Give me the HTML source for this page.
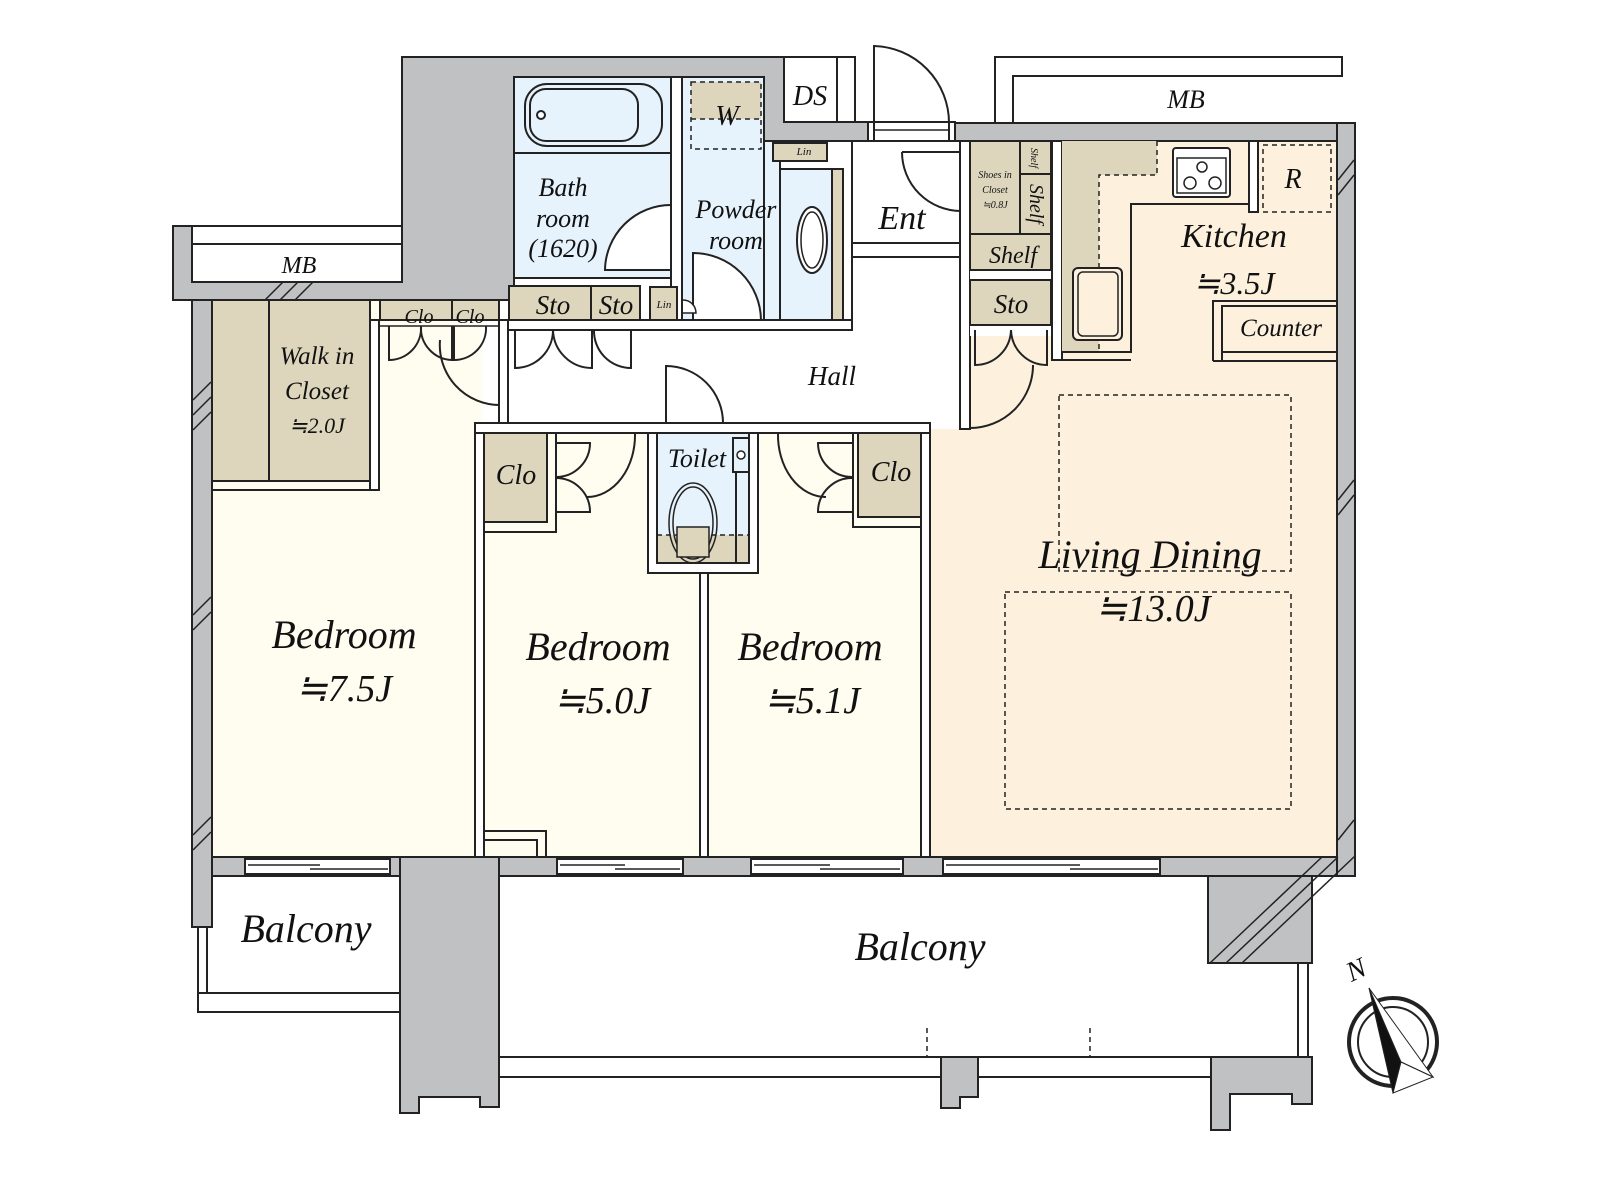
<!DOCTYPE html>
<html><head><meta charset="utf-8"><style>
html,body{margin:0;padding:0;background:#fff;width:1600px;height:1200px;overflow:hidden}
svg{display:block}
text{font-family:"Liberation Serif",serif;font-style:italic;fill:#111}
</style></head><body>
<svg width="1600" height="1200" viewBox="0 0 1600 1200" xmlns="http://www.w3.org/2000/svg">
<g stroke="#222" stroke-width="2">
<rect x="212" y="300" width="270" height="557" fill="#fffdf0" stroke="none"/>
<rect x="484" y="433" width="216" height="424" fill="#fffdf0" stroke="none"/>
<rect x="708" y="433" width="213" height="424" fill="#fffdf0" stroke="none"/>
<polygon points="930,857 930,429 970,429 970,141 1337,141 1337,857" fill="#fdf1de" stroke="none"/>
<polygon points="503,330 852,330 852,141 960,141 960,423 503,423" fill="#fff" stroke="none"/>
<polygon points="402,57 784,57 784,122 868,122 868,141 764,141 764,77 514,77 514,300 173,300 173,226 402,226" fill="#bfc1c2"/>
<rect x="192" y="226" width="210" height="56" fill="#fff"/>
<line x1="192" y1="244" x2="402" y2="244"/>
<rect x="192" y="300" width="20" height="627" fill="#bfc1c2"/>
<rect x="955" y="123" width="400" height="18" fill="#bfc1c2"/>
<rect x="1337" y="123" width="18" height="753" fill="#bfc1c2"/>
<polygon points="1161,857 1337,857 1337,876 1312,876 1312,963 1208,963 1208,876 1161,876" fill="#bfc1c2"/>
<rect x="212" y="857" width="1125" height="19" fill="#bfc1c2"/>
<polygon points="400,857 499,857 499,1107 480,1107 480,1097 419,1097 419,1113 400,1113" fill="#bfc1c2"/>
<polygon points="941,1057 978,1057 978,1097 960,1097 960,1108 941,1108" fill="#bfc1c2"/>
<polygon points="1211,1057 1312,1057 1312,1104 1292,1104 1292,1094 1230,1094 1230,1130 1211,1130" fill="#bfc1c2"/>
<g stroke-width="1.5">
<line x1="265" y1="300" x2="283" y2="282"/><line x1="280" y1="300" x2="298" y2="282"/><line x1="295" y1="300" x2="313" y2="282"/>
<line x1="193" y1="400" x2="211" y2="382"/><line x1="193" y1="415" x2="211" y2="397"/><line x1="193" y1="430" x2="211" y2="412"/>
<line x1="193" y1="615" x2="211" y2="597"/><line x1="193" y1="630" x2="211" y2="612"/>
<line x1="193" y1="835" x2="211" y2="817"/><line x1="193" y1="850" x2="211" y2="832"/>
<line x1="1338" y1="180" x2="1354" y2="160"/><line x1="1338" y1="195" x2="1354" y2="175"/>
<line x1="1338" y1="500" x2="1354" y2="480"/><line x1="1338" y1="515" x2="1354" y2="495"/>
<line x1="1338" y1="840" x2="1354" y2="820"/>
<line x1="1210" y1="963" x2="1322" y2="857"/><line x1="1226" y1="963" x2="1338" y2="857"/><line x1="1242" y1="963" x2="1355" y2="856"/>
</g>
<g fill="#fff">
<rect x="245" y="859" width="145" height="15"/><rect x="557" y="859" width="126" height="15"/>
<rect x="751" y="859" width="152" height="15"/><rect x="943" y="859" width="217" height="15"/>
</g>
<g stroke-width="1.5">
<line x1="248" y1="865" x2="320" y2="865"/><line x1="310" y1="869" x2="388" y2="869"/>
<line x1="560" y1="865" x2="625" y2="865"/><line x1="615" y1="869" x2="680" y2="869"/>
<line x1="754" y1="865" x2="830" y2="865"/><line x1="820" y1="869" x2="900" y2="869"/>
<line x1="946" y1="865" x2="1080" y2="865"/><line x1="1070" y1="869" x2="1158" y2="869"/>
</g>
<rect x="198" y="993" width="202" height="19" fill="#fff"/>
<rect x="198" y="927" width="9" height="66" fill="#fff"/>
<rect x="499" y="1057" width="442" height="20" fill="#fff"/>
<rect x="978" y="1057" width="233" height="20" fill="#fff"/>
<rect x="1298" y="963" width="10" height="94" fill="#fff"/>
<line x1="499" y1="876" x2="499" y2="1057"/>
<line x1="499" y1="876" x2="1208" y2="876"/>
<line x1="927" y1="1028" x2="927" y2="1057" stroke-dasharray="5,4" stroke-width="1.5"/>
<line x1="1090" y1="1028" x2="1090" y2="1057" stroke-dasharray="5,4" stroke-width="1.5"/>
<polygon points="995,123 995,57 1342,57 1342,76 1013,76 1013,123" fill="#fff"/>
<rect x="784" y="57" width="53" height="65" fill="#fff"/>
<polyline points="837,57 855,57 855,122" fill="none"/>
<rect x="868" y="122" width="87" height="19" fill="#fff"/>
<line x1="874" y1="123" x2="874" y2="141"/><line x1="949" y1="123" x2="949" y2="141"/>
<line x1="874" y1="130" x2="949" y2="130" stroke-width="1.5"/>
<path d="M874,123 L874,46 A77,77 0 0 1 949,123" fill="none"/>
<rect x="514" y="77" width="157" height="201" fill="#e6f3fc"/>
<line x1="514" y1="153" x2="671" y2="153"/>
<rect x="525" y="84" width="137" height="62" rx="22" fill="#e6f3fc"/>
<rect x="530" y="89" width="108" height="52" rx="16" fill="#e6f3fc"/>
<circle cx="541" cy="115" r="4" fill="#fff"/>
<path d="M671,205 A66,66 0 0 0 605,270 L671,270" fill="#fff"/>
<rect x="671" y="77" width="11" height="243" fill="#fff"/>
<rect x="682" y="77" width="82" height="243" fill="#e6f3fc"/>
<polygon points="764,141 780,141 780,169 843,169 843,320 764,320" fill="#e6f3fc"/>
<rect x="764" y="141" width="88" height="179" fill="none"/>
<rect x="691" y="82" width="70" height="37" fill="#ddd6bd" stroke="none"/>
<rect x="691" y="82" width="70" height="67" fill="none" stroke-dasharray="5,4" stroke-width="1.5"/>
<line x1="691" y1="119" x2="761" y2="119" stroke-dasharray="5,4" stroke-width="1.5"/>
<rect x="773" y="143" width="54" height="18" fill="#ddd6bd"/>
<line x1="780" y1="169" x2="780" y2="320"/>
<rect x="832" y="169" width="11" height="151" fill="#ddd6bd"/>
<ellipse cx="812" cy="240" rx="15" ry="33" fill="#fff"/>
<ellipse cx="812" cy="240" rx="11" ry="28" fill="#fff" stroke-width="1.5"/>
<path d="M693,320 L693,253 A68,68 0 0 1 761,320" fill="#fff"/>
<rect x="509" y="286" width="82" height="37" fill="#ddd6bd"/>
<rect x="591" y="286" width="49" height="37" fill="#ddd6bd"/>
<rect x="650" y="287" width="27" height="33" fill="#ddd6bd"/>
<path d="M683,300 A13,13 0 0 1 696,313 L683,313" fill="#fff" stroke-width="1.5"/>
<rect x="499" y="320" width="353" height="10" fill="#fff"/>
<rect x="499" y="320" width="9" height="103" fill="#fff"/>
<rect x="475" y="423" width="455" height="10" fill="#fff"/>
<rect x="960" y="141" width="10" height="288" fill="#fff"/>
<rect x="852" y="243" width="108" height="14" fill="#fff"/>
<line x1="852" y1="141" x2="852" y2="330"/>
<g fill="none">
<path d="M515,330 L515,368 A38,38 0 0 0 553,330"/>
<path d="M592,330 L592,368 A39,39 0 0 1 553,330"/>
<path d="M631,330 L631,368 A37,37 0 0 1 594,330"/>
<path d="M666,423 L666,366 A57,57 0 0 1 723,423"/>
<path d="M902,152 L961,152 M902,152 A59,59 0 0 0 961,211"/>
</g>
<rect x="212" y="300" width="158" height="181" fill="#ddd6bd"/>
<line x1="269" y1="300" x2="269" y2="481"/>
<rect x="370" y="320" width="9" height="170" fill="#fff"/>
<line x1="212" y1="490" x2="379" y2="490"/>
<rect x="380" y="300" width="119" height="20" fill="#ddd6bd"/>
<line x1="452" y1="300" x2="452" y2="320"/>
<g fill="none">
<path d="M389,326 L389,360 A32,32 0 0 0 421,326"/>
<path d="M452,326 L452,360 A32,32 0 0 1 421,326"/>
<path d="M454,326 L454,360 A32,32 0 0 0 486,326"/>
<path d="M440,340 A60,60 0 0 0 500,405"/>
</g>
<line x1="380" y1="326" x2="499" y2="326" stroke-width="1.5"/>
<rect x="475" y="433" width="9" height="424" fill="#fff"/>
<rect x="700" y="573" width="8" height="284" fill="#fff"/>
<rect x="921" y="433" width="9" height="424" fill="#fff"/>
<polyline points="484,831 546,831 546,857" fill="none"/>
<polyline points="484,840 537,840 537,857" fill="none"/>
<rect x="484" y="433" width="63" height="89" fill="#ddd6bd"/>
<polyline points="484,532 556,532 556,433" fill="none"/>
<g fill="none">
<path d="M556,443 L590,443 A34,34 0 0 1 556,477"/>
<path d="M556,512 L590,512 A34,34 0 0 0 556,478"/>
<path d="M635,433 A48,62 0 0 1 587,497"/>
</g>
<rect x="648" y="433" width="110" height="140" fill="#fff"/>
<rect x="657" y="433" width="92" height="130" fill="#e6f3fc"/>
<rect x="657" y="535" width="92" height="28" fill="#ddd6bd" stroke="none"/>
<line x1="657" y1="535" x2="749" y2="535" stroke-dasharray="5,4" stroke-width="1.5"/>
<rect x="657" y="433" width="92" height="130" fill="none"/>
<line x1="736" y1="472" x2="736" y2="563"/>
<rect x="733" y="438" width="16" height="34" fill="#e6f3fc"/>
<circle cx="741" cy="455" r="4" fill="#fff" stroke-width="1.5"/>
<ellipse cx="693" cy="523" rx="24" ry="40" fill="none" stroke-width="1.5"/>
<ellipse cx="693" cy="523" rx="20" ry="36" fill="none" stroke-width="1.5"/>
<rect x="677" y="527" width="32" height="30" fill="#ddd6bd" stroke-width="1.5"/>
<rect x="858" y="433" width="63" height="84" fill="#ddd6bd"/>
<polyline points="921,527 853,527 853,433" fill="none"/>
<g fill="none">
<path d="M853,443 L818,443 A34,34 0 0 0 853,477"/>
<path d="M853,512 L818,512 A34,34 0 0 1 853,478"/>
<path d="M778,433 A48,62 0 0 0 826,497"/>
</g>
<rect x="970" y="141" width="82" height="195" fill="#fff" stroke="none"/>
<rect x="970" y="141" width="50" height="93" fill="#ddd6bd"/>
<rect x="1020" y="141" width="31" height="33" fill="#ddd6bd"/>
<rect x="1020" y="174" width="31" height="60" fill="#ddd6bd"/>
<rect x="970" y="234" width="81" height="36" fill="#ddd6bd"/>
<rect x="970" y="280" width="81" height="45" fill="#ddd6bd"/>
<g fill="none">
<path d="M975,330 L975,365 A36,36 0 0 0 1011,330"/>
<path d="M1047,330 L1047,365 A36,36 0 0 1 1011,330"/>
<path d="M1033,365 A63,63 0 0 1 970,428"/>
</g>
<line x1="1052" y1="141" x2="1052" y2="336"/>
<rect x="1052" y="141" width="10" height="219" fill="#fff"/>
<polygon points="1062,141 1157,141 1157,175 1099,175 1099,352 1062,352" fill="#ddd6bd" stroke="none"/>
<polyline points="1157,141 1157,175 1099,175 1099,352" fill="none" stroke-dasharray="5,4" stroke-width="1.5"/>
<polyline points="1062,352 1131,352 1131,204 1249,204" fill="none"/>
<polyline points="1052,360 1131,360" fill="none"/>
<rect x="1249" y="141" width="9" height="71" fill="#fff"/>
<rect x="1173" y="148" width="57" height="49" rx="3" fill="#fff"/>
<rect x="1177" y="158" width="49" height="35" fill="#fff" stroke-width="1.5"/>
<circle cx="1202" cy="167" r="5" fill="#fff" stroke-width="1.5"/>
<circle cx="1190" cy="183" r="6" fill="#fff" stroke-width="1.5"/>
<circle cx="1215" cy="183" r="6" fill="#fff" stroke-width="1.5"/>
<rect x="1263" y="145" width="68" height="67" fill="none" stroke-dasharray="5,4" stroke-width="1.5"/>
<rect x="1073" y="268" width="49" height="72" rx="5" fill="#fdf1de"/>
<rect x="1078" y="272" width="40" height="64" rx="5" fill="none" stroke-width="1.5"/>
<polyline points="1213,361 1213,301 1337,301" fill="none"/>
<polyline points="1222,361 1222,306 1337,306" fill="none"/>
<line x1="1213" y1="361" x2="1337" y2="361"/>
<line x1="1222" y1="352" x2="1337" y2="352"/>
<rect x="1059" y="395" width="232" height="176" fill="none" stroke-dasharray="5,4" stroke-width="1.5"/>
<rect x="1005" y="592" width="286" height="217" fill="none" stroke-dasharray="5,4" stroke-width="1.5"/>
<circle cx="1393" cy="1042" r="44" fill="none" stroke-width="4"/>
<circle cx="1393" cy="1042" r="35" fill="none" stroke-width="2"/>
<polygon points="1369,988 1401,1062 1393,1093" fill="#111" stroke-width="1"/>
<polygon points="1369,988 1433,1077 1401,1062" fill="#fff" stroke-width="1"/>
<polygon points="1401,1062 1433,1077 1393,1093" fill="#fff" stroke-width="1"/>
</g>
<text x="299" y="273" font-size="24" text-anchor="middle">MB</text>
<text x="1186" y="108" font-size="26" text-anchor="middle">MB</text>
<text x="810" y="105" font-size="28" text-anchor="middle">DS</text>
<text x="727" y="125" font-size="28" text-anchor="middle">W</text>
<text x="804" y="155" font-size="11" text-anchor="middle">Lin</text>
<text x="664" y="308" font-size="11" text-anchor="middle">Lin</text>
<text x="563" y="196" font-size="26" text-anchor="middle">Bath</text>
<text x="563" y="227" font-size="26" text-anchor="middle">room</text>
<text x="563" y="257" font-size="26" text-anchor="middle">(1620)</text>
<text x="736" y="218" font-size="26" text-anchor="middle">Powder</text>
<text x="736" y="249" font-size="26" text-anchor="middle">room</text>
<text x="902" y="229" font-size="34" text-anchor="middle">Ent</text>
<text x="553" y="314" font-size="27" text-anchor="middle">Sto</text>
<text x="616" y="314" font-size="27" text-anchor="middle">Sto</text>
<text x="1011" y="313" font-size="27" text-anchor="middle">Sto</text>
<text x="1013" y="263" font-size="24" text-anchor="middle">Shelf</text>
<text x="995" y="178" font-size="10" text-anchor="middle">Shoes in</text>
<text x="995" y="193" font-size="10" text-anchor="middle">Closet</text>
<text x="995" y="208" font-size="10" text-anchor="middle">≒0.8J</text>
<text transform="translate(1031,158) rotate(90)" font-size="10" text-anchor="middle">Shelf</text>
<text transform="translate(1030,204) rotate(90)" font-size="20" text-anchor="middle">Shelf</text>
<text x="419" y="323" font-size="20" text-anchor="middle">Clo</text>
<text x="470" y="323" font-size="20" text-anchor="middle">Clo</text>
<text x="317" y="364" font-size="25" text-anchor="middle">Walk in</text>
<text x="317" y="399" font-size="25" text-anchor="middle">Closet</text>
<text x="317" y="433" font-size="22" text-anchor="middle">≒2.0J</text>
<text x="832" y="385" font-size="27" text-anchor="middle">Hall</text>
<text x="516" y="484" font-size="28" text-anchor="middle">Clo</text>
<text x="891" y="481" font-size="28" text-anchor="middle">Clo</text>
<text x="697" y="467" font-size="26" text-anchor="middle">Toilet</text>
<text x="1234" y="247" font-size="34" text-anchor="middle">Kitchen</text>
<text x="1234" y="294" font-size="32" text-anchor="middle">≒3.5J</text>
<text x="1281" y="336" font-size="25" text-anchor="middle">Counter</text>
<text x="1293" y="188" font-size="28" text-anchor="middle">R</text>
<text x="1150" y="568" font-size="40" text-anchor="middle">Living Dining</text>
<text x="1153" y="621" font-size="38" text-anchor="middle">≒13.0J</text>
<text x="344" y="648" font-size="40" text-anchor="middle">Bedroom</text>
<text x="344" y="701" font-size="38" text-anchor="middle">≒7.5J</text>
<text x="598" y="660" font-size="40" text-anchor="middle">Bedroom</text>
<text x="602" y="713" font-size="38" text-anchor="middle">≒5.0J</text>
<text x="810" y="660" font-size="40" text-anchor="middle">Bedroom</text>
<text x="812" y="713" font-size="38" text-anchor="middle">≒5.1J</text>
<text x="306" y="942" font-size="40" text-anchor="middle">Balcony</text>
<text x="920" y="960" font-size="40" text-anchor="middle">Balcony</text>
<text transform="translate(1360,978) rotate(-25)" font-size="28" text-anchor="middle">N</text>
</svg>
</body></html>
